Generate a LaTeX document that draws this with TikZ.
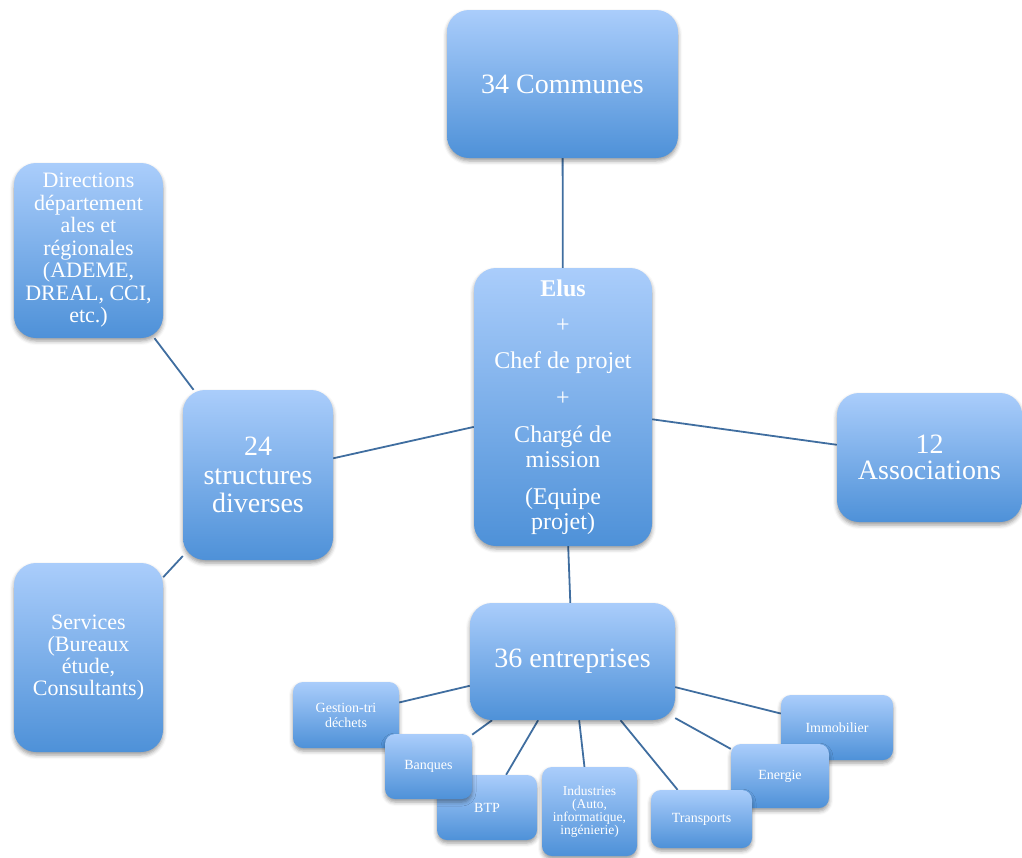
\documentclass[tikz,border=0pt]{standalone}
\usepackage{fontspec}
\setmainfont{Liberation Serif}
\usetikzlibrary{shadows,shadows.blur,backgrounds}
\definecolor{boxtop}{RGB}{170,205,251}
\definecolor{boxbot}{RGB}{78,145,216}
\definecolor{linkc}{RGB}{64,110,160}
\tikzset{
  box/.style={rectangle, rounded corners=22pt, top color=boxtop, bottom color=boxbot,
    draw=none, text=white, align=center, inner sep=2pt,
    blur shadow={shadow xshift=0pt, shadow yshift=-3pt, shadow blur radius=4pt, shadow opacity=40}},
  smallbox/.style={box, rounded corners=10pt, font=\fontsize{14}{15}\selectfont},
  link/.style={draw=linkc, line width=1.8pt}
}
\begin{document}
\begin{tikzpicture}[x=1pt,y=-1pt]
\useasboundingbox (0,0) rectangle (1022,857);
% main nodes
\node[box, minimum width=231pt, minimum height=148pt, font=\fontsize{28}{30}\selectfont] (comm) at (562.5,84) {34 Communes};
\node[box, minimum width=178pt, minimum height=278pt, font=\fontsize{24}{25}\selectfont] (core) at (563,407)
  {\textbf{Elus}\\[11pt]+\\[11pt]Chef de projet\\[12pt]+\\[12pt]Chargé de\\mission\\[12pt](Equipe\\projet)};
\node[box, minimum width=149pt, minimum height=175pt, font=\fontsize{22}{22.5}\selectfont] (dir) at (88.5,250.5)
  {Directions\\département\\ales et\\régionales\\(ADEME,\\DREAL, CCI,\\etc.)};
\node[box, minimum width=150pt, minimum height=170pt, font=\fontsize{28}{28.5}\selectfont] (struct) at (258,475)
  {24\\structures\\diverses};
\node[box, minimum width=149pt, minimum height=189pt, font=\fontsize{22}{22}\selectfont] (serv) at (88.5,657.5)
  {Services\\(Bureaux\\étude,\\Consultants)};
\node[box, minimum width=185pt, minimum height=129pt, font=\fontsize{28}{26}\selectfont] (assoc) at (929.5,457.5)
  {12\\Associations};
\node[box, minimum width=205pt, minimum height=117pt, font=\fontsize{28}{30}\selectfont] (ent) at (572.5,661.5)
  {36 entreprises};
% small nodes (stacking order matters)
\node[smallbox, minimum width=106pt, minimum height=66pt] (gest) at (346,715) {Gestion-tri\\déchets};
\node[smallbox, minimum width=100pt, minimum height=65pt] (btp) at (487,807.5) {BTP};
\node[smallbox, minimum width=87pt, minimum height=65pt] (banq) at (428.5,766.5) {Banques};
\node[smallbox, minimum width=95pt, minimum height=89pt, font=\fontsize{13.5}{13}\selectfont] (ind) at (589.5,811.5)
  {Industries\\(Auto,\\informatique,\\ingénierie)};
\node[smallbox, minimum width=112pt, minimum height=65pt] (immo) at (837,727.5) {Immobilier};
\node[smallbox, minimum width=98pt, minimum height=64pt] (ener) at (780,776) {Energie};
\node[smallbox, minimum width=101pt, minimum height=58pt] (trans) at (701.5,819) {Transports};
% connectors
\begin{pgfonlayer}{background}
\draw[link] (comm) -- (core);
\draw[link] (core) -- (struct);
\draw[link] (core) -- (assoc);
\draw[link] (core) -- (ent);
\draw[link] (struct) -- (dir);
\draw[link] (struct) -- (serv);
\draw[link] (ent) -- (gest);
\draw[link] (ent) -- (banq);
\draw[link] (ent) -- (btp);
\draw[link] (ent) -- (ind);
\draw[link] (ent) -- (trans);
\draw[link] (ent) -- (ener);
\draw[link] (ent) -- (immo);
\end{pgfonlayer}
\end{tikzpicture}
\end{document}
